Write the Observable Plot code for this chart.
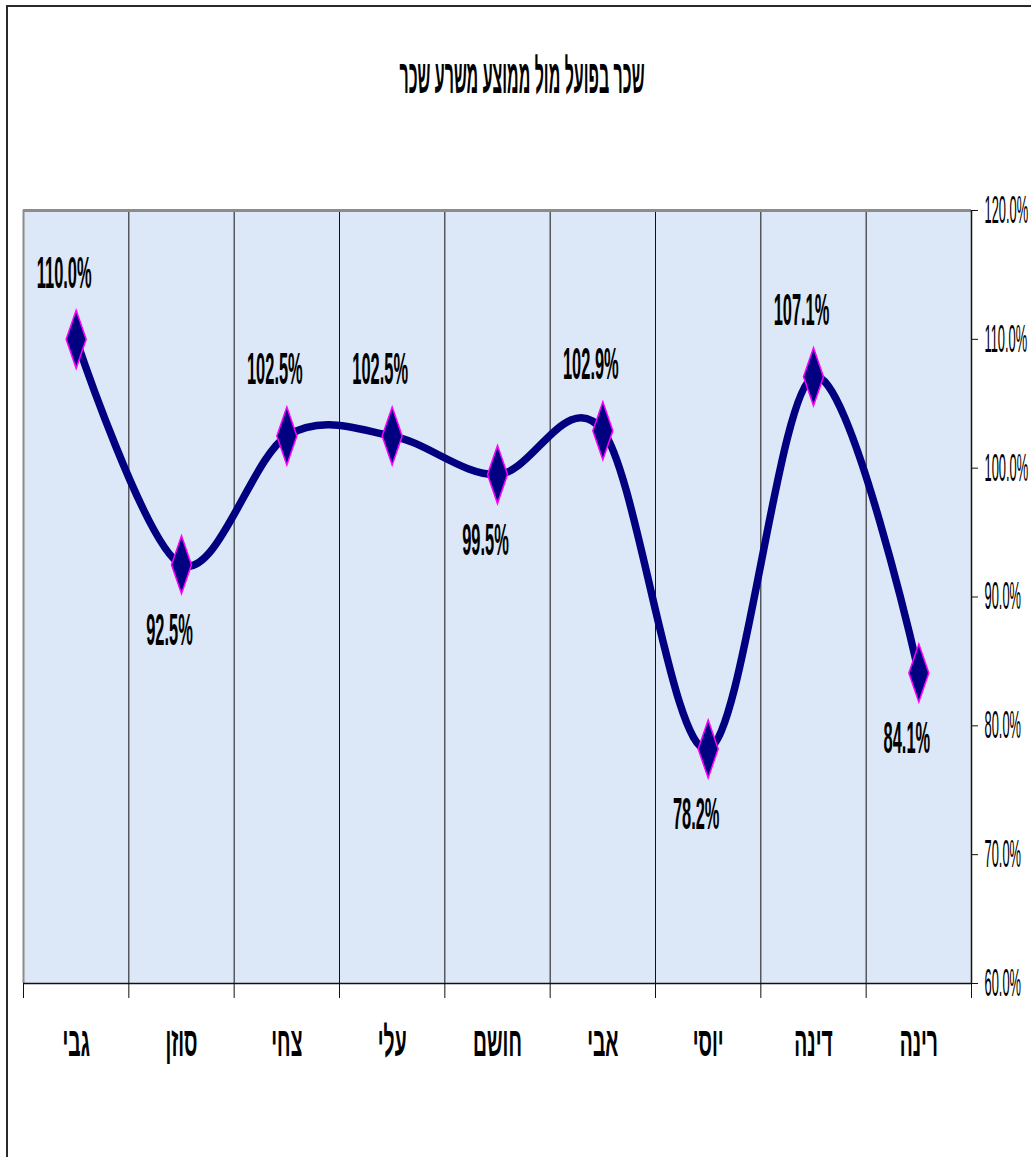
<!DOCTYPE html>
<html>
<head>
<meta charset="utf-8">
<script src="https://cdn.jsdelivr.net/npm/d3@7"></script>
<script src="https://cdn.jsdelivr.net/npm/@observablehq/plot@0.6"></script>
<style>
  html, body { margin: 0; padding: 0; background: #fff; }
  #wrap { position: relative; width: 1031px; height: 1157px; overflow: hidden; font-family: "Liberation Sans", Arial, sans-serif; }
  #frame { position: absolute; left: 6px; top: 5px; width: 1100px; height: 1200px; border-left: 2px solid #2a2a2a; border-top: 2px solid #2a2a2a; pointer-events: none; }
  #titlebox { position: relative; height: 130px; }
  #title { position: absolute; left: 522px; top: 76px; white-space: nowrap; font-weight: bold; font-size: 48px; direction: rtl; transform-origin: 50% 50%; }
  svg { display: block; }
</style>
</head>
<body>
<div id="wrap">
  <div id="titlebox"><div id="title">שכר בפועל מול ממוצע משרע שכר</div></div>
  <div id="chart"></div>
  <div id="frame"></div>
</div>
<script>
const categories = ["גבי", "סוזן", "צחי", "עלי", "חושם", "אבי", "יוסי", "דינה", "רינה"];
const values = [110.0, 92.5, 102.5, 102.5, 99.5, 102.9, 78.2, 107.1, 84.1];
const labelSide = ["above", "below", "above", "above", "below", "above", "below", "above", "below"];
const yTicks = [60, 70, 80, 90, 100, 110, 120];

const data = categories.map((c, i) => ({name: c, i, x: i + 0.5, value: values[i], side: labelSide[i]}));
const boundaries = d3.range(0, categories.length + 1);
const inner = d3.range(1, categories.length);

const tallDiamond = {
  draw(ctx, size) {
    const r = Math.sqrt(size / Math.PI);
    ctx.moveTo(0, -2.9 * r);
    ctx.lineTo(r, 0);
    ctx.lineTo(0, 2.9 * r);
    ctx.lineTo(-r, 0);
    ctx.closePath();
  }
};

const labelOpts = {x: "x", y: "value", text: d => d.value.toFixed(1) + "%", dx: -12, fontSize: 45, fontWeight: "bold", fill: "#000"};

const plot = Plot.plot({
  width: 1031,
  height: 1027,
  marginTop: 80,
  marginBottom: 174,
  marginLeft: 23,
  marginRight: 60,
  style: {fontFamily: "'Liberation Sans', Arial, sans-serif", background: "transparent", overflow: "visible"},
  x: {domain: [0, categories.length], axis: null},
  y: {domain: [60, 120], axis: null},
  marks: [
    Plot.frame({fill: "#dce8f7", stroke: null}),
    Plot.ruleX(inner, {stroke: "#111", strokeWidth: 1}),
    Plot.ruleY([120], {stroke: "#8c8c8c", strokeWidth: 3}),
    Plot.ruleX([0], {stroke: "#8c8c8c", strokeWidth: 2}),
    Plot.ruleY([60], {stroke: "#111", strokeWidth: 1.5}),
    Plot.ruleX([categories.length], {stroke: "#111", strokeWidth: 1.5}),
    Plot.axisX({ticks: boundaries, tickSize: 15, tickFormat: () => "", stroke: "#111", label: null}),
    Plot.axisY({anchor: "right", ticks: yTicks, tickSize: 6, tickPadding: 7, tickFormat: d => d.toFixed(1) + "%",
      fontSize: 39, fill: "#000", stroke: "#111", label: null}),
    Plot.line(data, {x: "x", y: "value", curve: "cardinal", tension: 0, stroke: "#000080", strokeWidth: 7.5, strokeLinejoin: "round", strokeLinecap: "round"}),
    Plot.dot(data, {x: "x", y: "value", r: 10, symbol: tallDiamond, fill: "#000080", stroke: "#ff00ff", strokeWidth: 1.5}),
    Plot.text(data.filter(d => d.side === "above"), {...labelOpts, dy: -66}),
    Plot.text(data.filter(d => d.side === "below"), {...labelOpts, dy: 66}),
    Plot.text(data, {x: "x", frameAnchor: "bottom", dy: 72, text: "name", fontSize: 42, fontWeight: "bold", fill: "#000"})
  ]
});
document.getElementById("chart").append(plot);

// Condense texts horizontally (the reference uses a very narrow face)
const valueSet = new Set(values.map(v => v.toFixed(1) + "%"));
const tickSet = new Set(yTicks.map(v => v.toFixed(1) + "%"));
const catSet = new Set(categories);
function len(attr, fs) {
  if (attr == null) return 0;
  const v = parseFloat(attr);
  if (isNaN(v)) return 0;
  return /em$/.test(attr) ? v * fs : v;
}
plot.querySelectorAll("text").forEach(t => {
  const s = t.textContent;
  const fs = parseFloat(getComputedStyle(t).fontSize);
  let k = null;
  if (catSet.has(s)) k = 0.46;
  else if (tickSet.has(s) && fs < 42) k = 0.33;
  else if (valueSet.has(s)) k = 0.365;
  if (k == null) return;
  const x = len(t.getAttribute("x"), fs) + len(t.getAttribute("dx"), fs);
  const y = len(t.getAttribute("y"), fs) + len(t.getAttribute("dy"), fs);
  ["x", "y", "dx", "dy"].forEach(a => t.removeAttribute(a));
  const tr = t.getAttribute("transform") || "";
  t.setAttribute("transform", `${tr} translate(${x},${y}) scale(${k},1)`);
});

const title = document.getElementById("title");
const tw = title.getBoundingClientRect().width;
title.style.transform = `translate(-50%, -50%) scaleX(${245 / tw})`;
</script>
</body>
</html>
